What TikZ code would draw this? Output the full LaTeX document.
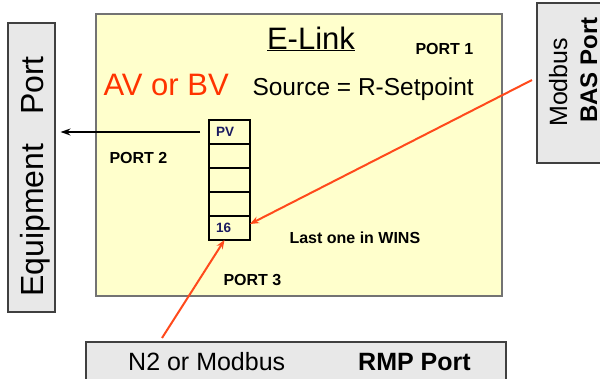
\documentclass[tikz,border=0pt]{standalone}
\usepackage{fontspec}
\setmainfont{Liberation Sans}
\usetikzlibrary{arrows.meta, positioning}
\definecolor{elinkyellow}{HTML}{FFFFCC}
\definecolor{portgray}{HTML}{E8E8E8}
\definecolor{avred}{HTML}{FF3300}
\definecolor{wirered}{HTML}{FF4A1C}
\definecolor{cellblue}{HTML}{1A1A60}

\begin{document}
\begin{tikzpicture}[x=1pt, y=-1pt, node distance=0pt]
\tikzstyle{portbox} = [rectangle, draw=black!75, fill=portgray, line width=1.1pt]
\tikzstyle{cell} = [rectangle, draw=black, line width=1.4pt, outer sep=0pt, text width=27pt, inner xsep=7pt, inner ysep=0pt, minimum height=24pt, align=left, font=\fontsize{13.5}{13.5}\selectfont\bfseries, text=cellblue]
\tikzstyle{portlabel} = [anchor=base west, font=\fontsize{16}{16}\selectfont\bfseries]
\tikzstyle{wire} = [line width=2pt, draw=wirered, -{Stealth[length=9pt, width=7pt]}]

\useasboundingbox (0,0) rectangle (600,378);

% boxes
\node (elink) [rectangle, draw=black!55, fill=elinkyellow, line width=1.6pt, minimum width=406pt, minimum height=282pt] at (299,155) {};
\node (equip) [portbox, minimum width=47pt, minimum height=289pt] at (31.5,167.5) {};
\node (bas) [portbox, minimum width=80pt, minimum height=160pt] at (577,83) {};
\node (rmp) [portbox, minimum width=420pt, minimum height=60pt] at (296,372) {};

% texts
\node (title) [anchor=base] at (311,49) {\fontsize{31}{31}\selectfont\underline{E-Link}};
\node (port1) [portlabel] at (412,54) {PORT 1};
\node (avbv) [anchor=base west, text=avred] at (100,95) {\fontsize{31}{31}\selectfont AV or BV};
\node (source) [anchor=base west] at (249,95) {\fontsize{24.5}{24.5}\selectfont Source = R-Setpoint};
\node (port2) [portlabel] at (106,163) {PORT 2};
\node (wins) [portlabel] at (286,243) {Last one in WINS};
\node (port3) [portlabel] at (220,285) {PORT 3};
\node (equiptext) [anchor=base west, rotate=90, inner sep=0pt] at (43,297) {\fontsize{32}{32}\selectfont Equipment\hspace{29pt}Port};
\node (modbus) [anchor=base west, rotate=90, inner sep=0pt] at (567,127) {\fontsize{25}{25}\selectfont Modbus};
\node (bastext) [anchor=base west, rotate=90, inner sep=0pt] at (597,123) {\fontsize{24}{24}\selectfont\bfseries BAS Port};
\node (n2) [anchor=base west, inner sep=0pt] at (128,370) {\fontsize{25}{25}\selectfont N2 or Modbus};
\node (rmptext) [anchor=base west, inner sep=0pt] at (358,370) {\fontsize{25}{25}\selectfont\bfseries RMP Port};

% register stack
\node (cell1) [cell] at (229.5,132) {PV};
\node (cell2) [cell, below=of cell1] {};
\node (cell3) [cell, below=of cell2] {};
\node (cell4) [cell, below=of cell3] {};
\node (cell5) [cell, below=of cell4] {16};

% connectors
\coordinate (baswire) at (532,80);
\coordinate (rmpwire) at (162,338);
\draw[-{Stealth[length=10pt, width=7pt]}, line width=1.5pt, shorten <=9pt, shorten >=5pt] (cell1.west) -- (equip.east |- cell1.west);
\draw[wire] (baswire) -- ([yshift=4pt]cell5.east);
\draw[wire] (rmpwire) -- ([xshift=-5pt]cell5.south);

\end{tikzpicture}
\end{document}
